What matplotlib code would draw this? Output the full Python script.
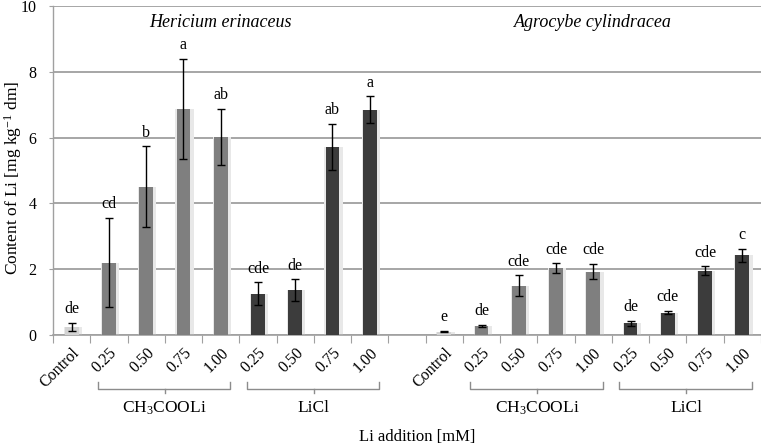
import matplotlib
matplotlib.use("Agg")
import matplotlib.pyplot as plt
import numpy as np
from matplotlib.transforms import blended_transform_factory

plt.rcParams['font.family'] = ['Liberation Serif', 'DejaVu Serif']
plt.rcParams['mathtext.fontset'] = 'custom'
plt.rcParams['mathtext.rm'] = 'Liberation Serif'
plt.rcParams['mathtext.it'] = 'Liberation Serif:italic'

# ---- data ----
tick_labels = ["Control", "0.25", "0.50", "0.75", "1.00", "0.25", "0.50", "0.75", "1.00"]
treatments = ["Control", "CH3COOLi", "CH3COOLi", "CH3COOLi", "CH3COOLi",
              "LiCl", "LiCl", "LiCl", "LiCl"]
species = ["Hericium erinaceus", "Agrocybe cylindracea"]

hericium_mean = [0.25, 2.20, 4.50, 6.87, 6.02, 1.25, 1.37, 5.72, 6.85]
hericium_err = [0.12, 1.36, 1.23, 1.53, 0.86, 0.35, 0.33, 0.70, 0.40]
hericium_letters = ["de", "cd", "b", "a", "ab", "cde", "de", "ab", "a"]

agrocybe_mean = [0.10, 0.28, 1.50, 2.03, 1.93, 0.36, 0.68, 1.95, 2.42]
agrocybe_err = [0.02, 0.03, 0.31, 0.15, 0.24, 0.08, 0.05, 0.14, 0.20]
agrocybe_letters = ["e", "de", "cde", "cde", "cde", "de", "cde", "cde", "c"]

colors = {"Control": "#d3d3d3", "CH3COOLi": "#7f7f7f", "LiCl": "#3c3c3c"}
group_labels = {"CH3COOLi": r"CH$_{\mathregular{3}}$COOLi", "LiCl": "LiCl"}

W, H = 761, 444
fig = plt.figure(figsize=(W / 100, H / 100), dpi=100)
ax = fig.add_axes([53 / W, 1 - 335 / H, 708 / W, 329 / H])

n = len(tick_labels)
pos_h = np.arange(n)
pos_a = np.arange(n) + n + 1
all_pos = np.concatenate([pos_h, pos_a])
means = hericium_mean + agrocybe_mean
errs = hericium_err + agrocybe_err
letters = hericium_letters + agrocybe_letters
cols = [colors[t] for t in treatments] * 2

bw = 0.37
# soft shadow
ax.bar(all_pos + 0.03, means, width=bw + 0.12, color="#e8e8e8", zorder=2)
ax.bar(all_pos, means, width=bw, color=cols, zorder=3,
       yerr=errs, error_kw=dict(ecolor="black", elinewidth=1.0, capsize=3, capthick=1.0, zorder=4))

for x, m, e, l in zip(all_pos, means, errs, letters):
    ax.annotate(l, (x, m + e), xytext=(0, 4), textcoords="offset points",
                ha="center", va="bottom", fontsize=11.5)

ax.set_xlim(-0.5, 2 * n + 0.5)
ax.set_ylim(0, 10)
ax.set_yticks(np.arange(0, 11, 2))
ax.tick_params(axis="y", labelsize=11.5, length=3, color="#a0a0a0", pad=9)
ax.grid(axis="y", color="#a6a6a6", linewidth=1.4, zorder=0)
ax.set_axisbelow(True)

# boundaries as major ticks, centres as minor ticks with labels
ax.set_xticks(np.arange(-0.5, 2 * n + 1, 1.0))
ax.set_xticklabels([])
ax.tick_params(axis="x", which="major", length=6, color="#a0a0a0", direction="out")
ax.set_xticks(all_pos, minor=True)
ax.set_xticklabels(tick_labels * 2, minor=True, rotation=45, ha="right",
                   rotation_mode="anchor", fontsize=11.5)
ax.tick_params(axis="x", which="minor", length=0, pad=7)

for s in ["top", "right"]:
    ax.spines[s].set_visible(False)
ax.spines["left"].set_color("#a0a0a0")
ax.spines["bottom"].set_color("#a0a0a0")
ax.spines["left"].set_linewidth(1.0)
ax.spines["bottom"].set_linewidth(1.2)

# species titles
ax.text(pos_h.mean(), 9.5, species[0], ha="center", va="center", style="italic", fontsize=13)
ax.text(pos_a.mean(), 9.5, species[1], ha="center", va="center", style="italic", fontsize=13)

# group brackets
tr = blended_transform_factory(ax.transData, fig.transFigure)
y_line = 1 - 389 / H
y_end = 1 - 382 / H
y_mid = 1 - 393 / H
for base in (pos_h, pos_a):
    for grp in ("CH3COOLi", "LiCl"):
        idx = [i for i, t in enumerate(treatments) if t == grp]
        x0 = base[idx[0]] - 0.3
        x1 = base[idx[-1]] + 0.25
        xc = (base[idx[0]] + base[idx[-1]]) / 2
        ax.plot([x0, x0, x1, x1], [y_end, y_line, y_line, y_end], color="#8c8c8c",
                lw=1.0, transform=tr, clip_on=False)
        ax.plot([xc, xc], [y_line, y_mid], color="#8c8c8c", lw=1.0, transform=tr, clip_on=False)
        ax.text(xc, 1 - 408 / H, group_labels[grp], transform=tr, ha="center",
                va="center", fontsize=12.5)

fig.text(417 / W, 1 - 437 / H, "Li addition [mM]", ha="center", va="center", fontsize=12)
fig.text(13 / W, 1 - 178 / H, r"Content of Li [mg kg$^{\mathregular{-1}}$ dm]", rotation=90,
         ha="center", va="center", fontsize=12.5)

fig.savefig("out.png", dpi=100)
